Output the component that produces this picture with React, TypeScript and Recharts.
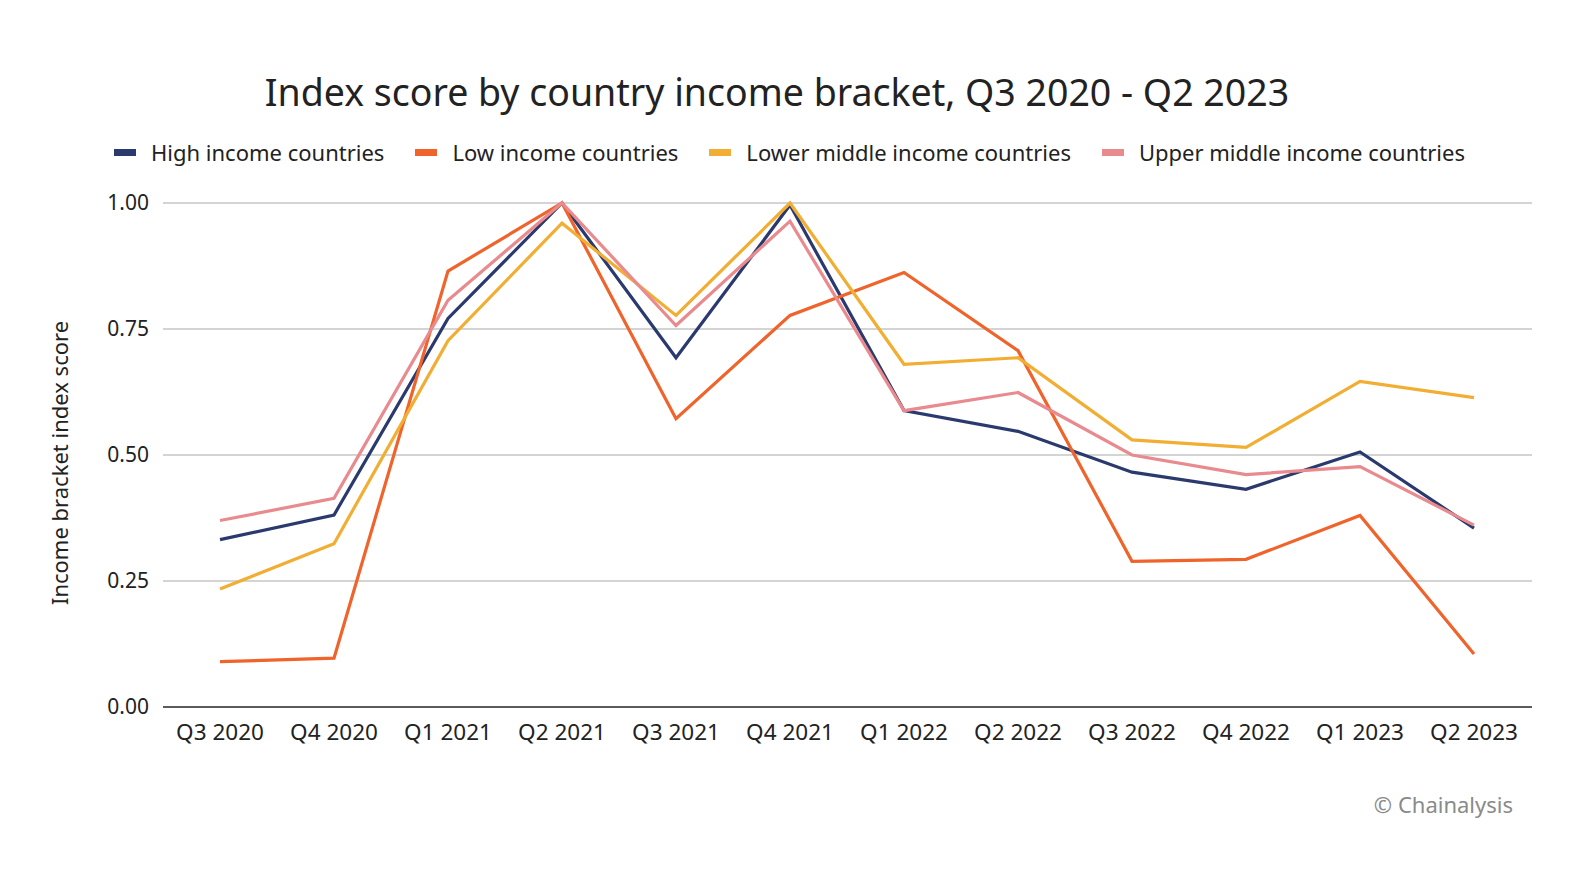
import { LineChart, Line, XAxis, YAxis, CartesianGrid } from "recharts"

const categories = [
  "Q3 2020",
  "Q4 2020",
  "Q1 2021",
  "Q2 2021",
  "Q3 2021",
  "Q4 2021",
  "Q1 2022",
  "Q2 2022",
  "Q3 2022",
  "Q4 2022",
  "Q1 2023",
  "Q2 2023",
]

const highIncome = [0.332, 0.381, 0.771, 1.0, 0.693, 0.996, 0.588, 0.547, 0.466, 0.432, 0.506, 0.355]
const lowIncome = [0.09, 0.097, 0.865, 1.0, 0.572, 0.777, 0.862, 0.707, 0.289, 0.293, 0.38, 0.105]
const lowerMiddleIncome = [0.234, 0.324, 0.727, 0.96, 0.777, 1.0, 0.68, 0.693, 0.53, 0.515, 0.646, 0.614]
const upperMiddleIncome = [0.37, 0.414, 0.807, 1.0, 0.757, 0.964, 0.588, 0.624, 0.5, 0.461, 0.477, 0.361]

const yTicks = [0, 0.25, 0.5, 0.75, 1]

const series = [
  { key: "high", name: "High income countries", color: "#2b3a6e", values: highIncome },
  { key: "low", name: "Low income countries", color: "#f0632a", values: lowIncome },
  { key: "lowerMiddle", name: "Lower middle income countries", color: "#f2ae33", values: lowerMiddleIncome },
  { key: "upperMiddle", name: "Upper middle income countries", color: "#e88a8e", values: upperMiddleIncome },
]

const chartData = categories.map((quarter, i) => {
  const row: Record<string, string | number> = { quarter }
  series.forEach((s) => {
    row[s.key] = s.values[i]
  })
  return row
})

const FONT = "'Noto Sans', sans-serif"
const TEXT = "#222222"

export default function App() {
  return (
    <div style={{ position: "relative", width: 1572, height: 872, fontFamily: FONT, color: TEXT }}>
      <div
        style={{
          position: "absolute",
          top: 62,
          left: 0,
          width: 1538,
          textAlign: "center",
          fontSize: 37.5,
          lineHeight: "44px",
        }}
      >
        Index score by country income bracket, Q3 2020 - Q2 2023
      </div>

      <div
        style={{
          position: "absolute",
          top: 130,
          left: 106,
          display: "flex",
          alignItems: "center",
          gap: 31,
          fontSize: 22,
          lineHeight: "28px",
        }}
      >
        {series.map((s) => (
          <div key={s.key} style={{ display: "flex", alignItems: "center" }}>
            <span style={{ display: "inline-block", width: 22, height: 7, background: s.color, marginRight: 15 }} />
            <span>{s.name}</span>
          </div>
        ))}
      </div>

      <div
        style={{
          position: "absolute",
          left: 51,
          top: 455,
          transform: "translate(-50%, -50%) rotate(-90deg)",
          whiteSpace: "nowrap",
          fontSize: 22,
        }}
      >
        Income bracket index score
      </div>

      <LineChart
        width={1572}
        height={872}
        data={chartData}
        margin={{ top: 195, right: 48, bottom: 133, left: 0 }}
      >
        <CartesianGrid vertical={false} stroke="#d4d4d4" strokeWidth={2} />
        <XAxis
          dataKey="quarter"
          padding={{ left: 57, right: 58 }}
          tickLine={false}
          tickSize={0}
          tickMargin={17}
          height={40}
          interval={0}
          axisLine={{ stroke: "#333333", strokeWidth: 1.5 }}
          tick={{ fill: TEXT, fontSize: 22.5, fontFamily: FONT }}
        />
        <YAxis
          domain={[0, 1]}
          ticks={yTicks}
          width={155}
          axisLine={false}
          tickLine={false}
          tickSize={0}
          tickMargin={14}
          tickFormatter={(v: number) => v.toFixed(2)}
          tick={{ fill: TEXT, fontSize: 21, fontFamily: FONT }}
        />
        {series.map((s) => (
          <Line
            key={s.key}
            type="linear"
            dataKey={s.key}
            name={s.name}
            stroke={s.color}
            strokeWidth={3.2}
            dot={false}
            activeDot={false}
            isAnimationActive={false}
          />
        ))}
      </LineChart>

      <div
        style={{
          position: "absolute",
          right: 1572 - 1505,
          top: 781,
          fontSize: 22,
          color: "#8a8a8a",
        }}
      >
        © Chainalysis
      </div>
    </div>
  )
}
